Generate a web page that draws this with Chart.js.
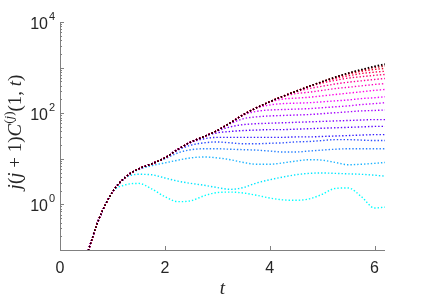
<!DOCTYPE html>
<html>
<head>
<meta charset="utf-8">
<script src="https://cdn.jsdelivr.net/npm/chart.js@4"></script>
<style>
  html, body { margin: 0; padding: 0; background: #fff; }
</style>
</head>
<body>
<canvas id="c" width="426" height="301"></canvas>
<script>
  // sample times
  const tGrid = [0.5, 0.75, 1, 1.25, 1.5, 1.75, 2, 2.25, 2.5, 2.75, 3, 3.25, 3.5, 3.75, 4, 4.25, 4.5, 4.75, 5, 5.25, 5.5, 5.75, 6, 6.2];

  // log10 of the top (black) curve; every other curve runs on it until it peels off
  const envelopeLog = [-1.15, -0.30, 0.27, 0.60, 0.78, 0.89, 1.02, 1.21, 1.37, 1.49, 1.62, 1.79, 1.97, 2.12, 2.25, 2.37, 2.48, 2.59, 2.69, 2.79, 2.88, 2.96, 3.03, 3.08];

  // log10 of each curve from where it leaves the envelope up to t = 6.2 (j = 1 .. 20)
  const tailsLog = [
    [0.43, 0.46, 0.34, 0.17, 0.06, 0.08, 0.19, 0.26, 0.27, 0.25, 0.20, 0.14, 0.10, 0.09, 0.12, 0.22, 0.35, 0.36, 0.17, -0.08, -0.06],
    [0.58, 0.66, 0.65, 0.58, 0.51, 0.46, 0.42, 0.37, 0.33, 0.37, 0.47, 0.54, 0.60, 0.65, 0.68, 0.69, 0.68, 0.67, 0.66, 0.64, 0.62],
    [0.76, 0.85, 0.91, 0.97, 1.02, 1.04, 1.02, 0.98, 0.92, 0.88, 0.88, 0.91, 0.95, 0.98, 0.97, 0.92, 0.87, 0.88, 0.90, 0.92],
    [1.00, 1.13, 1.20, 1.22, 1.22, 1.21, 1.20, 1.19, 1.17, 1.15, 1.15, 1.17, 1.19, 1.21, 1.22, 1.22, 1.22, 1.22],
    [1.19, 1.30, 1.35, 1.37, 1.35, 1.33, 1.33, 1.34, 1.35, 1.37, 1.38, 1.40, 1.42, 1.42, 1.41, 1.40, 1.40],
    [1.36, 1.44, 1.47, 1.47, 1.47, 1.47, 1.47, 1.47, 1.48, 1.48, 1.49, 1.50, 1.51, 1.52, 1.53, 1.53],
    [1.49, 1.57, 1.60, 1.62, 1.63, 1.64, 1.64, 1.65, 1.66, 1.67, 1.68, 1.69, 1.70, 1.71, 1.71],
    [1.61, 1.70, 1.75, 1.77, 1.78, 1.79, 1.80, 1.81, 1.82, 1.83, 1.84, 1.85, 1.86, 1.86],
    [1.77, 1.88, 1.92, 1.94, 1.95, 1.96, 1.97, 1.99, 2.01, 2.03, 2.05, 2.06, 2.07],
    [1.96, 2.04, 2.07, 2.08, 2.09, 2.10, 2.12, 2.14, 2.16, 2.19, 2.21, 2.23],
    [2.11, 2.18, 2.21, 2.22, 2.23, 2.25, 2.27, 2.29, 2.32, 2.34, 2.36],
    [2.24, 2.31, 2.33, 2.35, 2.38, 2.41, 2.44, 2.47, 2.50, 2.52],
    [2.36, 2.43, 2.46, 2.50, 2.54, 2.57, 2.60, 2.63, 2.65],
    [2.47, 2.54, 2.59, 2.64, 2.68, 2.71, 2.74, 2.76],
    [2.58, 2.66, 2.72, 2.77, 2.80, 2.83, 2.85],
    [2.68, 2.76, 2.82, 2.87, 2.90, 2.92],
    [2.78, 2.86, 2.92, 2.96, 2.98],
    [2.87, 2.94, 3.00, 3.03],
    [2.95, 3.02, 3.06],
    []
  ];

  const curveColors = [
    "#00ffff", "#00e6ff", "#1ab2ff", "#2680ff", "#2b4dff",
    "#3319ff", "#5a00ff", "#7f00ff", "#a300ff", "#c800ff",
    "#ee00ff", "#ff00e6", "#ff00bf", "#ff0099", "#ff0073",
    "#ff004d", "#e60026", "#b3001a", "#66000d", "#000000"
  ];

  const xTicks = [0, 2, 4, 6];
  const yTickExps = [0, 2, 4];

  const datasets = tailsLog.map((tail, i) => {
    const logs = envelopeLog.slice(0, tGrid.length - tail.length).concat(tail);
    return {
      label: "j = " + (i + 1),
      data: tGrid.map((t, k) => ({ x: t, y: Math.pow(10, logs[k]) })),
      borderColor: curveColors[i],
      backgroundColor: curveColors[i],
      borderWidth: 1.4,
      borderDash: [1.4, 2],
      pointRadius: 0,
      fill: false,
      cubicInterpolationMode: "monotone",
      // later j drawn on top, black last
      order: tailsLog.length - i
    };
  });

  const axisColor = "#808080";
  const textColor = "#262626";

  // axes, ticks and labels drawn MATLAB-style (ticks inward, no box)
  const matlabAxes = {
    id: "matlabAxes",
    afterDatasetsDraw(chart) {
      const ctx = chart.ctx;
      const a = chart.chartArea;
      const xs = chart.scales.x;
      const ys = chart.scales.y;
      ctx.save();
      ctx.strokeStyle = axisColor;
      ctx.lineWidth = 1;
      ctx.beginPath();
      ctx.moveTo(a.left + 0.5, a.top);
      ctx.lineTo(a.left + 0.5, a.bottom + 0.5);
      ctx.lineTo(a.right, a.bottom + 0.5);
      ctx.stroke();

      // x ticks
      ctx.beginPath();
      xTicks.forEach((v) => {
        const px = Math.round(xs.getPixelForValue(v)) + 0.5;
        ctx.moveTo(px, a.bottom);
        ctx.lineTo(px, a.bottom - 4);
      });
      // y ticks, major and minor
      for (let e = -1; e <= 4; e++) {
        for (let m = 1; m <= 9; m++) {
          const v = m * Math.pow(10, e);
          if (v < 0.1 || v > 10000) continue;
          const py = Math.round(ys.getPixelForValue(v)) + 0.5;
          const len = m === 1 ? 4 : 2;
          ctx.moveTo(a.left, py);
          ctx.lineTo(a.left + len, py);
        }
      }
      ctx.stroke();

      ctx.fillStyle = textColor;
      ctx.font = "16px 'Liberation Sans', Arial, sans-serif";
      ctx.textAlign = "center";
      ctx.textBaseline = "alphabetic";
      xTicks.forEach((v) => {
        ctx.fillText(String(v), xs.getPixelForValue(v), 273);
      });

      yTickExps.forEach((e) => {
        const py = ys.getPixelForValue(Math.pow(10, e));
        ctx.font = "16px 'Liberation Sans', Arial, sans-serif";
        ctx.textAlign = "right";
        ctx.fillText("10", 48, py + 7);
        ctx.font = "11px 'Liberation Sans', Arial, sans-serif";
        ctx.textAlign = "left";
        ctx.fillText(String(e), 49, py - 2);
      });

      // x title
      ctx.font = "italic 19px 'Liberation Serif', 'DejaVu Serif', serif";
      ctx.textAlign = "center";
      ctx.fillText("t", (a.left + a.right) / 2, 294);

      // y title: j(j+1)C^(j)(1,t)
      const it = "italic 19px 'Liberation Serif', 'DejaVu Serif', serif";
      const rm = "19px 'Liberation Serif', 'DejaVu Serif', serif";
      const itS = "italic 13px 'Liberation Serif', 'DejaVu Serif', serif";
      const rmS = "13px 'Liberation Serif', 'DejaVu Serif', serif";
      const parts = [
        ["j", it, 0], ["(", rm, 0], ["j", it, 0], [" + 1)", rm, 0], ["C", it, 0],
        ["(", rmS, -8], ["j", itS, -8], [")", rmS, -8],
        ["(1, ", rm, 0], ["t", it, 0], [")", rm, 0]
      ];
      let total = 0;
      parts.forEach((p) => { ctx.font = p[1]; total += ctx.measureText(p[0]).width; });
      ctx.translate(21, 132);
      ctx.rotate(-Math.PI / 2);
      ctx.textAlign = "left";
      let cx = -total / 2;
      parts.forEach((p) => {
        ctx.font = p[1];
        ctx.fillText(p[0], cx, p[2]);
        cx += ctx.measureText(p[0]).width;
      });
      ctx.restore();
    }
  };

  new Chart(document.getElementById("c"), {
    type: "line",
    data: { datasets: datasets },
    options: {
      responsive: false,
      animation: false,
      devicePixelRatio: 1,
      layout: { padding: { left: 60, right: 41, top: 22, bottom: 51 } },
      plugins: { legend: { display: false }, tooltip: { enabled: false } },
      scales: {
        x: { type: "linear", min: 0, max: 6.2, display: false },
        y: { type: "logarithmic", min: 0.1, max: 10000, display: false }
      }
    },
    plugins: [matlabAxes]
  });
</script>
</body>
</html>
